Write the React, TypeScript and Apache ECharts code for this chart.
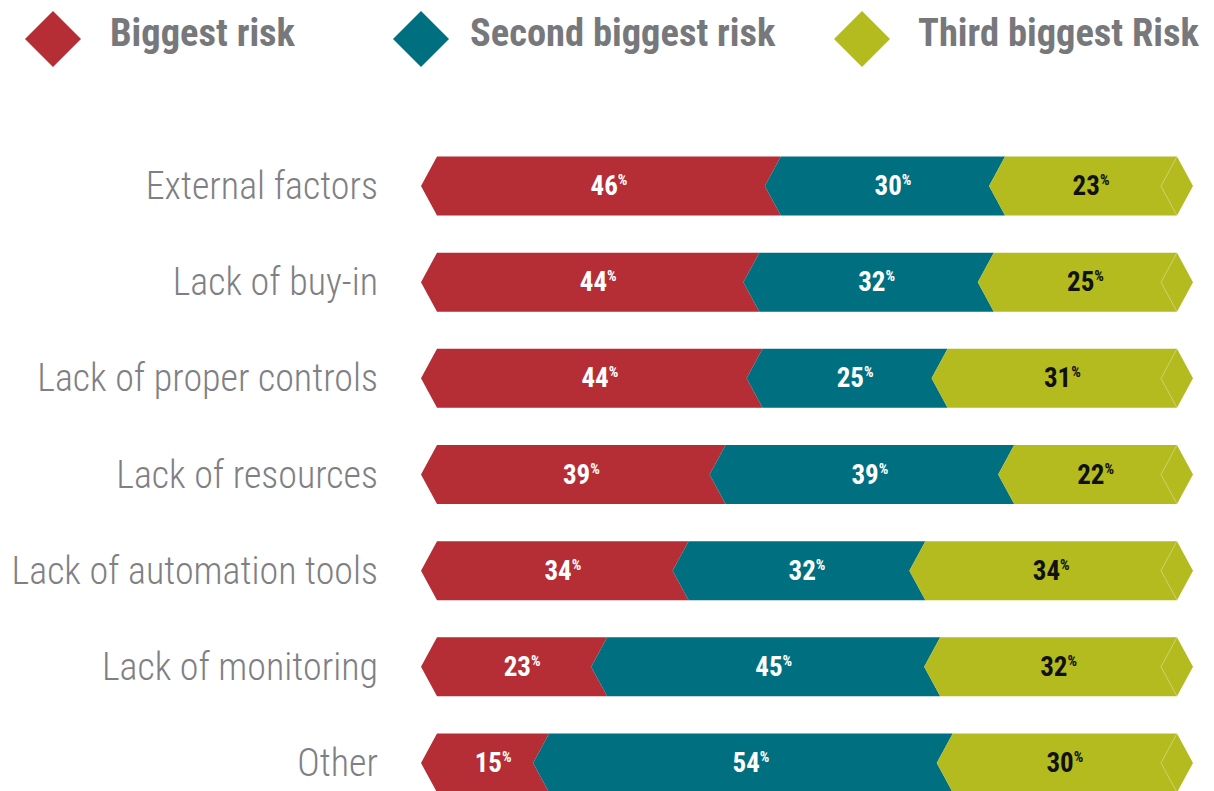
import React, { useEffect, useRef } from "react";
import * as echarts from "echarts";

const categories = [
  "External factors",
  "Lack of buy-in",
  "Lack of proper controls",
  "Lack of resources",
  "Lack of automation tools",
  "Lack of monitoring",
  "Other",
];
const seriesNames = ["Biggest risk", "Second biggest risk", "Third biggest Risk"];
const biggest = [46, 44, 44, 39, 34, 23, 15];
const second = [30, 32, 25, 39, 32, 45, 54];
const third = [23, 25, 31, 22, 34, 32, 30];
const colors = ["#b52d35", "#006f80", "#b3bb1f"];
const labelColors = ["#ffffff", "#ffffff", "#111111"];

const FONT = "'Roboto Condensed', 'Liberation Sans Narrow', Roboto, sans-serif";

export default function App() {
  const ref = useRef<HTMLDivElement>(null);
  useEffect(() => {
    document.body.style.margin = "0";
    const chart = echarts.init(ref.current!, null, { renderer: "svg" });
    const all = [biggest, second, third];
    const seriesData = all.map((arr, s) =>
      arr.map((v, i) => {
        const total = biggest[i] + second[i] + third[i];
        let before = 0;
        for (let k = 0; k < s; k++) before += all[k][i];
        const start = (before / total) * 100;
        const end = ((before + v) / total) * 100;
        return [i, start, end, v, s === 2 ? 1 : 0];
      })
    );
    const TIP = 16;
    const BAR_H = 59;
    const makeSeries = (s: number) => ({
      type: "custom",
      name: seriesNames[s],
      coordinateSystem: "cartesian2d",
      itemStyle: { color: colors[s] },
      encode: { x: [1, 2], y: 0 },
      data: seriesData[s],
      renderItem: (params: any, api: any) => {
        const cat = api.value(0);
        const p0 = api.coord([api.value(1), cat]);
        const p1 = api.coord([api.value(2), cat]);
        const isLast = api.value(4) === 1;
        const x0 = p0[0];
        const x1 = p1[0];
        const yc = p0[1];
        const yt = yc - BAR_H / 2;
        const yb = yc + BAR_H / 2;
        const pts = [
          [x0, yt],
          [x1, yt],
          [isLast ? x1 + TIP : x1 - TIP, yc],
          [x1, yb],
          [x0, yb],
          [x0 - TIP, yc],
        ];
        const children: any[] = [
          {
            type: "polygon",
            shape: { points: pts },
            style: { fill: colors[s] },
          },
        ];
        if (isLast) {
          children.push({
            type: "polyline",
            shape: { points: [[x1, yt], [x1 - TIP, yc], [x1, yb]] },
            style: { stroke: "rgba(255,255,255,0.35)", lineWidth: 1, fill: null },
          });
        }
        children.push({
          type: "text",
          x: (x0 + x1) / 2,
          y: yc,
          style: {
            text: "{v|" + api.value(3) + "}{p|%}",
            align: "center",
            verticalAlign: "middle",
            rich: {
              v: {
                fontFamily: FONT,
                fontSize: 27,
                fontWeight: "bold",
                fill: labelColors[s],
                color: labelColors[s],
                verticalAlign: "bottom",
              },
              p: {
                fontFamily: FONT,
                fontSize: 15,
                fontWeight: "bold",
                fill: labelColors[s],
                color: labelColors[s],
                verticalAlign: "top",
                padding: [0, 0, 9, 0],
              },
            },
          },
        });
        return { type: "group", children };
      },
    });

    const legendItem = (s: number, left: number, gap: number) => ({
      show: true,
      left,
      top: 6,
      icon: "diamond",
      itemWidth: 56,
      itemHeight: 56,
      itemGap: 0,
      selectedMode: false,
      data: [seriesNames[s]],
      formatter: "{a|{name}}",
      textStyle: {
        fontFamily: FONT,
        fontSize: 38.5,
        fontWeight: "bold",
        color: "#77787b",
        rich: {
          a: {
            fontFamily: FONT,
            fontSize: 38.5,
            fontWeight: "bold",
            color: "#77787b",
            padding: [0, 0, 14, gap],
          },
        },
      },
    });

    chart.setOption({
      animation: false,
      legend: [legendItem(0, 20, 24), legendItem(1, 388, 16), legendItem(2, 829, 23)],
      grid: { left: 437, width: 740, top: 138, height: 673, outerBoundsMode: "none", containLabel: false },
      xAxis: { type: "value", min: 0, max: 100, show: false },
      yAxis: {
        type: "category",
        inverse: true,
        data: categories,
        axisLine: { show: false },
        axisTick: { show: false },
        splitLine: { show: false },
        axisLabel: {
          margin: 59,
          fontFamily: FONT,
          fontSize: 38,
          color: "#7f8084",
          fontWeight: 300,
        },
      },
      series: [makeSeries(0), makeSeries(1), makeSeries(2)],
    });
    return () => chart.dispose();
  }, []);
  return (
    <div
      ref={ref}
      style={{ position: "absolute", left: 0, top: 0, width: 1214, height: 791 }}
    />
  );
}
